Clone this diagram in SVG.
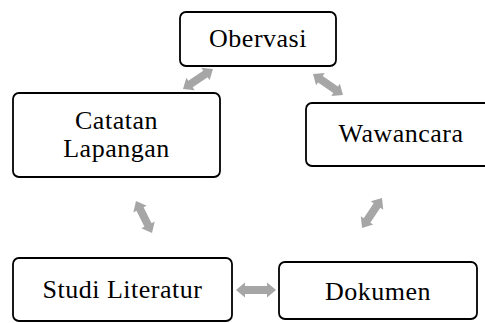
<svg xmlns="http://www.w3.org/2000/svg" width="485" height="323" viewBox="0 0 485 323">
<style>
.box{fill:#fff;stroke:#000;stroke-width:1.8}
.lbl{font-family:"Liberation Serif","Times New Roman",serif;font-size:26px;fill:#000;text-anchor:middle;letter-spacing:0.5px}
.arr{fill:#a6a6a6}
</style>
<rect width="485" height="323" fill="#fff"/>
<g id="connectors">
<g transform="translate(183,89) rotate(-33.7)"><path class="arr" d="M0,0 L9,-7.5 L9,-4 L27,-4 L27,-7.5 L36,0 L27,7.5 L27,4 L9,4 L9,7.5 Z"/></g>
<g transform="translate(313,74) rotate(35)"><path class="arr" d="M0,0 L9,-7.5 L9,-4 L27.6,-4 L27.6,-7.5 L36.6,0 L27.6,7.5 L27.6,4 L9,4 L9,7.5 Z"/></g>
<g transform="translate(136,201) rotate(63.4)"><path class="arr" d="M0,0 L9,-7.5 L9,-4 L26.8,-4 L26.8,-7.5 L35.8,0 L26.8,7.5 L26.8,4 L9,4 L9,7.5 Z"/></g>
<g transform="translate(382,198) rotate(123.7)"><path class="arr" d="M0,0 L9,-7.5 L9,-4 L27,-4 L27,-7.5 L36,0 L27,7.5 L27,4 L9,4 L9,7.5 Z"/></g>
<g transform="translate(236,290)"><path class="arr" d="M0,0 L9,-7.5 L9,-4 L31,-4 L31,-7.5 L40,0 L31,7.5 L31,4 L9,4 L9,7.5 Z"/></g>
</g>
<g id="obervasi">
<rect class="box" x="180" y="12" width="156" height="54" rx="6"/>
<text class="lbl" x="258" y="47">Obervasi</text>
</g>
<g id="catatan">
<rect class="box" x="13" y="93" width="207" height="84" rx="6"/>
<text class="lbl" x="116.5" y="129">Catatan</text>
<text class="lbl" x="116.5" y="157">Lapangan</text>
</g>
<g id="wawancara">
<rect class="box" x="306" y="103" width="190" height="63" rx="6"/>
<text class="lbl" x="401" y="142">Wawancara</text>
</g>
<g id="studi">
<rect class="box" x="13" y="258" width="219" height="63" rx="6"/>
<text class="lbl" x="122.5" y="298">Studi Literatur</text>
</g>
<g id="dokumen">
<rect class="box" x="279" y="262" width="198" height="57" rx="6"/>
<text class="lbl" x="378" y="300">Dokumen</text>
</g>
</svg>
